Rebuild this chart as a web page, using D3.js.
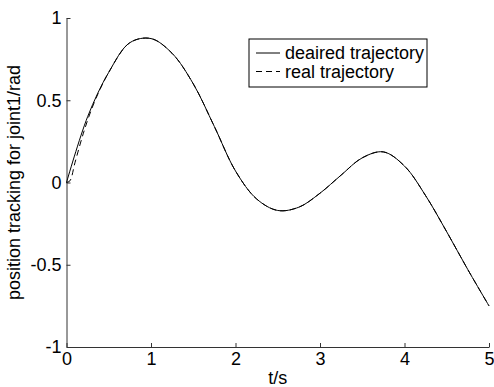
<!DOCTYPE html>
<html>
<head>
<meta charset="utf-8">
<script src="https://cdn.jsdelivr.net/npm/d3@7"></script>
<style>
  body { margin: 0; background: #fff; }
  svg { display: block; font-family: "Liberation Sans", Arial, sans-serif; }
</style>
</head>
<body>
<svg id="svg" width="494" height="387"></svg>
<script>
"use strict";

// time samples (s) and joint positions (rad)
const tValues = [0, 0.25, 0.5, 0.75, 1.0, 1.25, 1.5, 1.75, 2.0, 2.25, 2.5, 2.75,
                 3.0, 3.25, 3.5, 3.75, 4.0, 4.25, 4.5, 4.75, 5.0];
const desired = [0, 0.40, 0.67, 0.85, 0.875, 0.785, 0.60, 0.34, 0.07, -0.10, -0.17, -0.15,
                 -0.065, 0.045, 0.15, 0.186, 0.10, -0.08, -0.30, -0.53, -0.75];

// the real trajectory lags a little at the start, then follows the desired one
const realT = [0, 0.04, 0.1, 0.2, 0.3, 0.4, 0.5, 0.75, 1.0, 1.25, 1.5, 1.75, 2.0, 2.25, 2.5, 2.75,
               3.0, 3.25, 3.5, 3.75, 4.0, 4.25, 4.5, 4.75, 5.0];
const real = [0, 0.01, 0.12, 0.30, 0.45, 0.57, 0.67, 0.85, 0.875, 0.785, 0.60, 0.34, 0.07, -0.10, -0.17, -0.15,
              -0.065, 0.045, 0.15, 0.186, 0.10, -0.08, -0.30, -0.53, -0.75];

const xTicks = [0, 1, 2, 3, 4, 5];
const yTicks = [-1, -0.5, 0, 0.5, 1];
const legendLabels = ["deaired trajectory", "real trajectory"];

const plotLeft = 66.5, plotRight = 489, plotTop = 18, plotBottom = 347;
const fontSize = 18;

var svg = d3.select("svg");

var x = d3.scaleLinear().domain([0, 5]).range([plotLeft, plotRight]);
var y = d3.scaleLinear().domain([-1, 1]).range([plotBottom, plotTop]);

// axes (left + bottom only, ticks pointing inward)
var xAxis = svg.append("g")
    .attr("transform", "translate(0," + plotBottom + ")")
    .call(d3.axisBottom(x).tickValues(xTicks).tickSizeInner(-4).tickSizeOuter(0).tickPadding(5)
        .tickFormat(d3.format("")));

var yAxis = svg.append("g")
    .attr("transform", "translate(" + plotLeft + ",0)")
    .call(d3.axisLeft(y).tickValues(yTicks).tickSizeInner(-4).tickSizeOuter(0).tickPadding(5)
        .tickFormat(d => d3.format("")(d).replace("\u2212", "-")));

svg.selectAll(".domain, .tick line").attr("stroke", "#333").attr("stroke-width", 1);
svg.selectAll(".tick text")
    .attr("fill", "#000")
    .style("font-size", fontSize + "px")
    .style("font-family", "Liberation Sans, Arial, sans-serif");
xAxis.selectAll(".tick text").attr("dy", "0.71em");

// curves
var line = d3.line()
    .x(d => x(d[0]))
    .y(d => y(d[1]))
    .curve(d3.curveCatmullRom);

svg.append("path")
    .datum(d3.zip(tValues, desired))
    .attr("fill", "none")
    .attr("stroke", "#000")
    .attr("stroke-width", 1)
    .attr("d", line);

svg.append("path")
    .datum(d3.zip(realT, real))
    .attr("fill", "none")
    .attr("stroke", "#000")
    .attr("stroke-width", 1)
    .attr("stroke-dasharray", "6,4")
    .attr("d", line);

// axis labels
svg.append("text")
    .attr("x", (plotLeft + plotRight) / 2)
    .attr("y", 384)
    .attr("text-anchor", "middle")
    .style("font-size", fontSize + "px")
    .text("t/s");

svg.append("text")
    .attr("transform", "translate(20," + ((plotTop + plotBottom) / 2) + ") rotate(-90)")
    .attr("text-anchor", "middle")
    .style("font-size", fontSize + "px")
    .text("position tracking for joint1/rad");

// legend
var legend = svg.append("g").attr("transform", "translate(249,39)");
legend.append("rect")
    .attr("width", 178)
    .attr("height", 48)
    .attr("fill", "#fff")
    .attr("stroke", "#000")
    .attr("stroke-width", 1);

var rows = legend.selectAll(".row")
    .data(legendLabels)
    .enter()
    .append("g")
        .attr("class", "row")
        .attr("transform", (d, i) => "translate(0," + (14 + i * 18.5) + ")");

rows.append("line")
    .attr("x1", 7)
    .attr("x2", 31)
    .attr("stroke", "#000")
    .attr("stroke-width", 1)
    .attr("stroke-dasharray", (d, i) => i === 1 ? "6,4" : null);

rows.append("text")
    .attr("x", 36)
    .attr("dy", "0.35em")
    .style("font-size", fontSize + "px")
    .text(d => d);
</script>
</body>
</html>
